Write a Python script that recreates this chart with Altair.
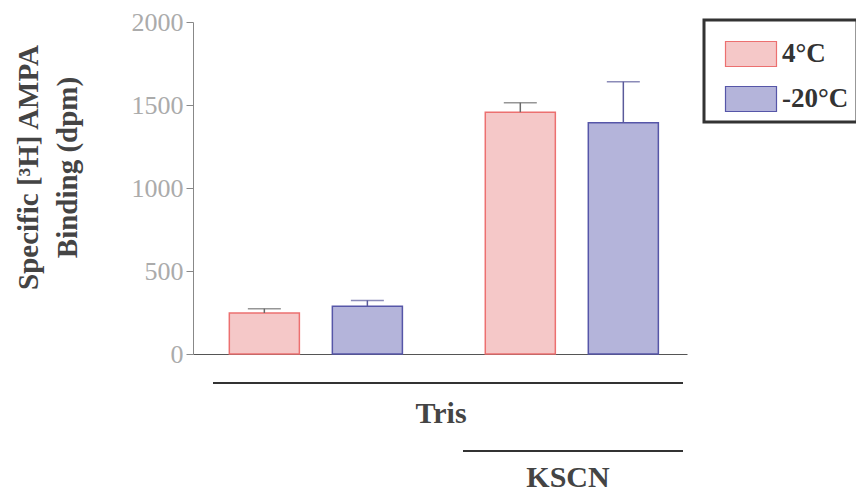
import altair as alt
import pandas as pd

buffers = ["Tris", "Tris", "KSCN", "KSCN"]
temps = ["4°C", "-20°C", "4°C", "-20°C"]
binding = [247, 287, 1457, 1393]
error_top = [273, 323, 1514, 1640]

df = pd.DataFrame({"buffer": buffers, "temp": temps, "value": binding, "upper": error_top})

temp_order = ["4°C", "-20°C"]
fill_scale = alt.Scale(domain=temp_order, range=["#f5c8c8", "#b4b4da"])
stroke_scale = alt.Scale(domain=temp_order, range=["#ec7070", "#5656a8"])
err_scale = alt.Scale(domain=temp_order, range=["#6a6a6a", "#5a5a9a"])

xenc = alt.X("buffer:N", sort=["Tris", "KSCN"],
             scale=alt.Scale(paddingInner=0.1, paddingOuter=0.015, align=1),
             axis=alt.Axis(title=None, labels=False, ticks=False, domainColor="#555", domainWidth=1.2))
xoff = alt.XOffset("temp:N", sort=temp_order, scale=alt.Scale(paddingInner=0.32, paddingOuter=0.278))

yaxis = alt.Axis(
    values=[0, 500, 1000, 1500, 2000], format="d", grid=False, tickSize=7, tickColor="#888",
    domainColor="#888", labelColor="#ababab", labelFont="Liberation Serif", labelFontSize=26,
    labelPadding=3,
    title=["Specific [³H] AMPA", "Binding (dpm)"], titleFont="Liberation Serif",
    titleFontSize=29, titleFontWeight="bold", titleColor="#444", titleLineHeight=39,
    titleX=-150, titleY=145, titleAngle=-90, titleAlign="center",
)

nb = "\u00a0" * 5
bars = alt.Chart(df).mark_bar(strokeWidth=1.5).encode(
    x=xenc, xOffset=xoff,
    y=alt.Y("value:Q", scale=alt.Scale(domain=[0, 2000], nice=False), axis=yaxis),
    fill=alt.Fill("temp:N", scale=fill_scale, sort=temp_order,
                  legend=alt.Legend(title=None, orient="none", legendX=511, legendY=-2,
                                    symbolType="M-1.02,-0.5H1.02V0.5H-1.02Z", symbolSize=2500,
                                    symbolStrokeWidth=1.2, symbolOffset=13,
                                    labelFont="Liberation Serif",
                                    labelFontSize=27, labelFontWeight="bold", labelColor="#333",
                                    labelOffset=5, labelExpr=f"datum.label + '{nb}'",
                                    padding=8, rowPadding=4,
                                    strokeColor="#333")),
    stroke=alt.Stroke("temp:N", scale=stroke_scale, sort=temp_order, legend=None),
)

rules = alt.Chart(df).mark_rule(strokeWidth=1.5).encode(
    x=xenc, xOffset=xoff, y="value:Q", y2="upper:Q",
    color=alt.Color("temp:N", scale=err_scale, legend=None),
)
caps = alt.Chart(df).mark_tick(orient="horizontal", size=33, thickness=1.5).encode(
    x=xenc, xOffset=xoff, y="upper:Q",
    color=alt.Color("temp:N", scale=err_scale, legend=None),
)

ann = pd.DataFrame({"label": ["Tris", "KSCN"]})
line_tris = alt.Chart(ann).transform_filter("datum.label == 'Tris'").mark_rule(color="#333", strokeWidth=2).encode(
    x=alt.value(20), x2=alt.value(490), y=alt.value(361))
line_kscn = alt.Chart(ann).transform_filter("datum.label == 'KSCN'").mark_rule(color="#333", strokeWidth=2).encode(
    x=alt.value(270), x2=alt.value(490), y=alt.value(429))
text_tris = alt.Chart(ann).transform_filter("datum.label == 'Tris'").mark_text(
    font="Liberation Serif", fontSize=30, fontWeight="bold", color="#444", align="center", baseline="alphabetic"
).encode(x=alt.value(248), y=alt.value(401), text="label:N")
text_kscn = alt.Chart(ann).transform_filter("datum.label == 'KSCN'").mark_text(
    font="Liberation Serif", fontSize=30, fontWeight="bold", color="#444", align="center", baseline="alphabetic"
).encode(x=alt.value(375), y=alt.value(465), text="label:N")

chart = alt.layer(bars, rules, caps, line_tris, line_kscn, text_tris, text_kscn).resolve_scale(
    color="independent"
).properties(
    width=494, height=332,
    background="white",
    autosize=alt.AutoSizeParams(type="none"),
    padding={"left": 185, "top": 14, "right": 169, "bottom": 140},
).configure_view(stroke=None).configure_legend(strokeWidth=3)

chart.save("out.html", embed_options={"renderer": "svg", "actions": False})
